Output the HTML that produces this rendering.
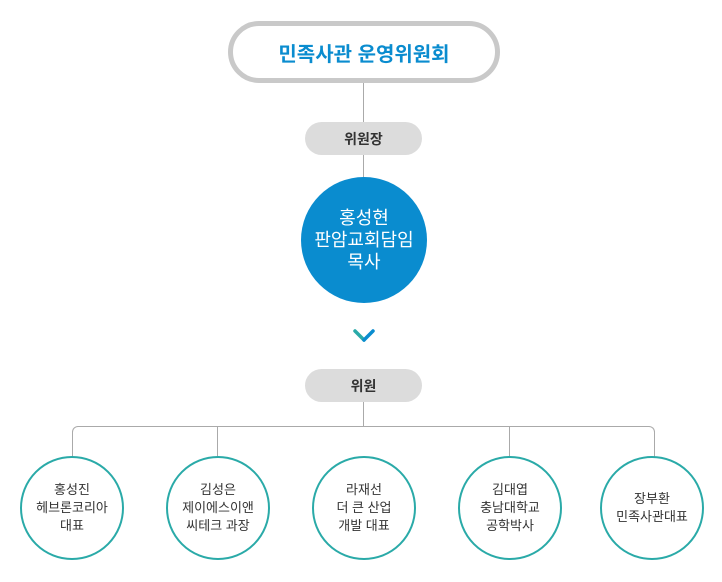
<!DOCTYPE html>
<html><head><meta charset="utf-8"><style>
body{margin:0;width:722px;height:582px;background:#fff;font-family:"Liberation Sans","Noto Sans CJK KR",sans-serif;position:relative;overflow:hidden}
.a{position:absolute;box-sizing:border-box;display:flex;align-items:center;justify-content:center;text-align:center}
.top{left:228px;top:21px;width:272px;height:62px;border:5px solid #c9c9c9;border-radius:31px;color:#0a8ccf;font-size:20px;font-weight:bold}
.pill{background:#dcdcdc;border-radius:17px;color:#333;font-size:14px;font-weight:bold}
.big{left:301px;top:177px;width:126px;height:126px;border-radius:50%;background:#0a8ccf;color:#fff;font-size:18px;line-height:22px}
.c{width:104px;height:104px;top:456px;border:2px solid #2aaaa8;border-radius:50%;background:#fff;color:#333;font-size:13px;line-height:18px}
.l{position:absolute;background:#aaa}
</style></head><body>
<div class="l" style="left:363px;top:82px;width:1px;height:96px"></div>
<div class="l" style="left:363px;top:400px;width:1px;height:27px"></div>
<div style="position:absolute;left:72px;top:426px;width:583px;height:34px;border:1px solid #aaa;border-bottom:none;border-radius:6px 6px 0 0;box-sizing:border-box"></div>
<div class="l" style="left:217px;top:426px;width:1px;height:32px"></div>
<div class="l" style="left:509px;top:426px;width:1px;height:32px"></div>
<div class="a top">민족사관 운영위원회</div>
<div class="a pill" style="left:305px;top:122px;width:117px;height:33px">위원장</div>
<div class="a big">홍성현<br>판암교회담임<br>목사</div>
<svg style="position:absolute;left:352px;top:328px" width="24" height="16"><polyline points="3,3 12,12" stroke="#2aaaa8" stroke-width="3.5" fill="none" stroke-linecap="round"/><polyline points="12,12 21,3" stroke="#0a8ccf" stroke-width="3.5" fill="none" stroke-linecap="round"/></svg>
<div class="a pill" style="left:305px;top:369px;width:117px;height:33px">위원</div>
<div class="a c" style="left:20px">홍성진<br>헤브론코리아<br>대표</div>
<div class="a c" style="left:166px">김성은<br>제이에스이앤<br>씨테크 과장</div>
<div class="a c" style="left:312px">라재선<br>더 큰 산업<br>개발 대표</div>
<div class="a c" style="left:458px">김대엽<br>충남대학교<br>공학박사</div>
<div class="a c" style="left:600px">장부환<br>민족사관대표</div>
</body></html>
